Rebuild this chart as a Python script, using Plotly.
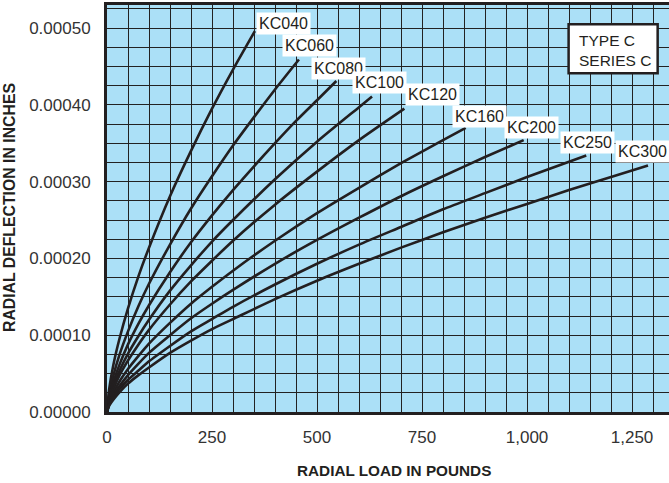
import plotly.graph_objects as go

# radial deflection (inches) vs radial load (lb)
models = ["KC040", "KC060", "KC080", "KC100", "KC120", "KC160", "KC200", "KC250", "KC300"]

load_kc040 = [0, 5, 15, 30, 50, 75, 100, 150, 200, 250, 300, 352]
defl_kc040 = [0, 0.000029, 0.000061, 0.000096, 0.000135, 0.000177, 0.000214, 0.000281, 0.000340, 0.000395, 0.000446, 0.000496]

load_kc060 = [0, 5, 15, 30, 50, 75, 100, 150, 200, 250, 300, 350, 400, 457]
defl_kc060 = [0, 0.000023, 0.000047, 0.000075, 0.000105, 0.000138, 0.000167, 0.000218, 0.000265, 0.000307, 0.000347, 0.000384, 0.000420, 0.000459]

load_kc080 = [0, 5, 15, 30, 50, 75, 100, 150, 200, 250, 300, 350, 400, 450, 500, 546]
defl_kc080 = [0, 0.000019, 0.000039, 0.000062, 0.000088, 0.000115, 0.000139, 0.000182, 0.000221, 0.000256, 0.000289, 0.000320, 0.000350, 0.000379, 0.000406, 0.000431]

load_kc100 = [0, 5, 15, 30, 50, 75, 100, 150, 200, 250, 300, 400, 500, 600, 631]
defl_kc100 = [0, 0.000016, 0.000034, 0.000054, 0.000076, 0.000099, 0.000120, 0.000158, 0.000191, 0.000222, 0.000250, 0.000303, 0.000352, 0.000397, 0.000411]

load_kc120 = [0, 5, 15, 30, 50, 75, 100, 150, 200, 250, 300, 400, 500, 600, 708]
defl_kc120 = [0, 0.000015, 0.000030, 0.000048, 0.000067, 0.000088, 0.000107, 0.000140, 0.000170, 0.000197, 0.000223, 0.000270, 0.000313, 0.000354, 0.000395]

load_kc160 = [0, 5, 15, 30, 50, 75, 100, 150, 200, 250, 300, 400, 500, 600, 700, 800, 854]
defl_kc160 = [0, 0.000012, 0.000025, 0.000040, 0.000056, 0.000073, 0.000089, 0.000116, 0.000141, 0.000163, 0.000184, 0.000223, 0.000259, 0.000292, 0.000324, 0.000354, 0.000370]

load_kc200 = [0, 5, 15, 30, 50, 75, 100, 150, 200, 250, 300, 400, 500, 600, 700, 800, 900, 992]
defl_kc200 = [0, 0.000010, 0.000022, 0.000034, 0.000048, 0.000063, 0.000077, 0.000100, 0.000122, 0.000141, 0.000159, 0.000193, 0.000224, 0.000253, 0.000281, 0.000307, 0.000332, 0.000354]

load_kc250 = [0, 5, 15, 30, 50, 75, 100, 150, 200, 250, 300, 400, 500, 600, 700, 800, 900, 1000, 1141]
defl_kc250 = [0, 0.000009, 0.000019, 0.000030, 0.000042, 0.000054, 0.000066, 0.000086, 0.000105, 0.000121, 0.000137, 0.000166, 0.000193, 0.000218, 0.000241, 0.000264, 0.000285, 0.000306, 0.000334]

load_kc300 = [0, 5, 15, 30, 50, 75, 100, 150, 200, 250, 300, 400, 500, 600, 700, 800, 900, 1000, 1100, 1200, 1288]
defl_kc300 = [0, 0.000008, 0.000016, 0.000026, 0.000037, 0.000048, 0.000058, 0.000077, 0.000093, 0.000108, 0.000121, 0.000147, 0.000171, 0.000193, 0.000214, 0.000234, 0.000253, 0.000271, 0.000289, 0.000306, 0.000321]

loads = [load_kc040, load_kc060, load_kc080, load_kc100, load_kc120, load_kc160, load_kc200, load_kc250, load_kc300]
defls = [defl_kc040, defl_kc060, defl_kc080, defl_kc100, defl_kc120, defl_kc160, defl_kc200, defl_kc250, defl_kc300]

x_ticks = [0, 250, 500, 750, 1000, 1250]
y_ticks = [0, 0.0001, 0.0002, 0.0003, 0.0004, 0.0005]

# pixel offsets of each label from the end of its curve
label_dx = [29, 11, 2, 7, 28, 14, 8, 1, -6]
label_dy = [8, 14, 13, 14, 14, 11, 13, 13, 14]

FONT = "Liberation Sans, Arial, sans-serif"
INK = "#231f20"
GRID = "#222222"

fig = go.Figure()
for name, x, y in zip(models, loads, defls):
    fig.add_trace(go.Scatter(x=x, y=y, mode="lines", name=name,
                             line=dict(color=INK, width=2.6, shape="spline", smoothing=0.6)))

annotations = []
for name, x, y, dx, dy in zip(models, loads, defls, label_dx, label_dy):
    annotations.append(dict(x=x[-1], y=y[-1], text=name, showarrow=False,
                            xanchor="center", yanchor="middle", xshift=dx, yshift=dy,
                            bgcolor="white", borderpad=2,
                            font=dict(family=FONT, size=16, color=INK)))

# type / series box
annotations.append(dict(x=1120, y=0.000471, xref="x", yref="y", text="TYPE C<br>SERIES C",
                        showarrow=False, xanchor="left", yanchor="middle", align="left",
                        font=dict(family=FONT, size=15.5, color=INK)))
# axis titles (positions given in pixels, converted to paper below)
annotations.append(dict(x=394, y=470, xref="paper", yref="paper", text="<b>RADIAL LOAD IN POUNDS</b>",
                        showarrow=False, xanchor="center", yanchor="middle",
                        font=dict(family=FONT, size=15.3, color=INK)))
annotations.append(dict(x=10, y=208, xref="paper", yref="paper", text="<b>RADIAL DEFLECTION IN INCHES</b>",
                        showarrow=False, xanchor="center", yanchor="middle", textangle=-90,
                        font=dict(family=FONT, size=15.8, color=INK)))

W, H = 669, 483
L, R, T, B = 107, 0, 5, 71
for a in annotations[-2:]:
    a["x"] = (a["x"] - L) / (W - L - R)
    a["y"] = (H - B - a["y"]) / (H - T - B)

fig.update_layout(
    width=W, height=H,
    margin=dict(l=L, r=R, t=T, b=B),
    paper_bgcolor="white",
    plot_bgcolor="#abe0f7",
    showlegend=False,
    annotations=annotations,
    shapes=[dict(type="rect", xref="x", yref="y", x0=1099, x1=1311, y0=0.000441, y1=0.000505,
                 fillcolor="white", line=dict(color=INK, width=2.5), layer="above")],
)
fig.update_xaxes(range=[0, 1338], tickvals=x_ticks, tickformat=",d", automargin=False,
                 showgrid=True, gridcolor=GRID, gridwidth=1.2,
                 minor=dict(dtick=50, tick0=0, showgrid=True, gridcolor=GRID, gridwidth=1.2),
                 showline=True, linecolor=INK, linewidth=3, mirror=True,
                 ticks="outside", ticklen=8, tickcolor="rgba(0,0,0,0)",
                 tickfont=dict(family=FONT, size=17, color="#333333"), zeroline=False)
fig.update_yaxes(range=[0, 0.00053], tickvals=y_ticks, tickformat=".5f", automargin=False,
                 showgrid=True, gridcolor=GRID, gridwidth=1.2,
                 minor=dict(dtick=0.000025, tick0=0, showgrid=True, gridcolor=GRID, gridwidth=1.2),
                 showline=True, linecolor=INK, linewidth=3,
                 ticks="outside", ticklen=10, tickcolor="rgba(0,0,0,0)",
                 tickfont=dict(family=FONT, size=17, color="#333333"), zeroline=False)

# page body has a default 8px margin; drop it so the figure sits at the corner
fig.write_html("out.html", config={"displayModeBar": False},
               post_script="document.body.style.margin='0';")
